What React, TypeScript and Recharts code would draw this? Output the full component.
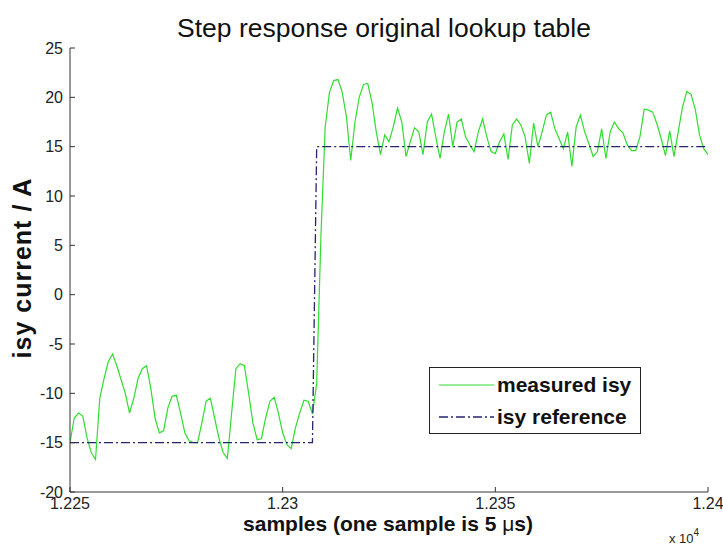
import React from "react";
import { LineChart, Line, XAxis, YAxis, Legend } from "recharts";

const START_SAMPLE = 12250;

// measured isy, one value per sample from 12250 to 12400
const measured = [
  -15, -12.5, -12, -12.3, -14.5, -16, -16.7, -10.5, -8.5, -6.8,
  -6, -7.2, -8.6, -10, -12, -10.5, -8.5, -7.5, -7.2, -9.5,
  -12.5, -14, -13.8, -11.5, -10.3, -10.2, -12, -14, -14.8, -15,
  -15, -13, -10.8, -10.5, -12.5, -14.5, -16, -16.6, -12, -7.5,
  -7, -7.2, -10, -13, -14.7, -14.6, -12.5, -10.8, -10.4, -12,
  -14, -15.2, -15.6, -13.5, -12, -10.7, -10.8, -12.1, -9, 6,
  17, 20.5, 21.7, 21.8, 20.5, 18, 13.6, 17.5, 20, 21.3,
  21.4, 19.5, 16.5, 14.2, 16.2, 15.5, 17, 18.9, 17.5, 14,
  15.5, 16.9, 16.5, 14.2, 17.5, 18.3, 16, 13.8, 16.5, 18.3,
  15, 17.5, 17.8, 16, 15.2, 14.5, 16.5, 17.8, 16, 14.5,
  14.3, 15.5, 16.3, 13.7, 17.2, 17.8, 17.2, 16, 13.3, 17.4,
  15, 16.5, 18.2, 18.5, 16.8, 15.8, 14.8, 16.5, 13, 17,
  18.2, 16.5, 15.3, 14, 14.5, 16.8, 13.8, 16.5, 17.5, 16.8,
  16.4, 15.2, 14.6, 14.6, 16, 18.8, 18.7, 18.5, 17.3, 15.8,
  14.1, 16.6, 14, 16.5, 19, 20.6, 20.3, 18.8, 16.2, 14.8,
  14.2,
];

// reference step
const refSamples = [12250, 12307, 12308, 12400];
const refValues = [-15, -15, 15, 15];

const xTicks = [12250, 12300, 12350, 12400];
const xTickLabels = ["1.225", "1.23", "1.235", "1.24"];
const yTicks = [-20, -15, -10, -5, 0, 5, 10, 15, 20, 25];

const measuredData = measured.map((v, i) => ({ sample: START_SAMPLE + i, isy: v }));
const refData = refSamples.map((s, i) => ({ sample: s, ref: refValues[i] }));

const FONT = '"Liberation Sans", Arial, Helvetica, sans-serif';
const GREEN = "#30dd30";
const NAVY = "#26266e";

function MatlabLegend() {
  const rows = [
    { label: "measured isy", color: GREEN, dash: undefined as string | undefined, w: 1.2 },
    { label: "isy reference", color: NAVY, dash: "9 3 2 3", w: 1.3 },
  ];
  return (
    <div
      style={{
        width: 212,
        height: 67,
        border: "1px solid #222",
        background: "#fff",
        fontFamily: FONT,
        fontWeight: "bold",
        fontSize: 21,
        color: "#111",
        boxSizing: "border-box",
        paddingTop: 1,
      }}
    >
      {rows.map((r) => (
        <div key={r.label} style={{ display: "flex", alignItems: "center", height: 32 }}>
          <svg width={66} height={10}>
            <line x1={9} y1={5} x2={64} y2={5} stroke={r.color} strokeWidth={r.w} strokeDasharray={r.dash} />
          </svg>
          <span style={{ marginLeft: 1 }}>{r.label}</span>
        </div>
      ))}
    </div>
  );
}

export default function App() {
  return (
    <div style={{ position: "absolute", left: 0, top: 0, width: 723, height: 547, background: "#fff", fontFamily: FONT }}>
      <div
        style={{
          position: "absolute",
          left: 384,
          top: 13,
          transform: "translateX(-50%)",
          whiteSpace: "nowrap",
          fontSize: 26.5,
          color: "#111",
        }}
      >
        Step response original lookup table
      </div>
      <div
        style={{
          position: "absolute",
          left: 22,
          top: 268,
          transform: "translate(-50%, -50%) rotate(-90deg)",
          whiteSpace: "nowrap",
          fontSize: 25,
          letterSpacing: 1,
          fontWeight: "bold",
          color: "#111",
        }}
      >
        isy current / A
      </div>
      <div
        style={{
          position: "absolute",
          left: 388,
          top: 524,
          transform: "translate(-50%, -50%)",
          whiteSpace: "nowrap",
          fontSize: 21,
          fontWeight: "bold",
          color: "#111",
        }}
      >
        samples (one sample is 5 <span style={{ fontWeight: "normal" }}>μ</span>s)
      </div>
      <div style={{ position: "absolute", left: 669, top: 529, fontSize: 13, color: "#222", whiteSpace: "nowrap" }}>
        x 10<sup style={{ fontSize: 10, position: "relative", top: -2 }}>4</sup>
      </div>
      <LineChart width={723} height={547} margin={{ top: 48, right: 15, bottom: 15, left: 10 }}>
        <XAxis
          dataKey="sample"
          type="number"
          domain={[12250, 12400]}
          ticks={xTicks}
          tickFormatter={(v: number) => xTickLabels[xTicks.indexOf(v)]}
          allowDataOverflow
          height={40}
          tickSize={-5}
          tickMargin={11}
          stroke="#333"
          tick={{ fill: "#222", fontSize: 16, fontFamily: FONT }}
        />
        <YAxis
          type="number"
          domain={[-20, 25]}
          ticks={yTicks}
          allowDataOverflow
          width={60}
          tickSize={-5}
          tickMargin={12}
          stroke="#333"
          tick={{ fill: "#222", fontSize: 16, fontFamily: FONT }}
        />
        <Legend
          layout="horizontal"
          verticalAlign="middle"
          align="center"
          wrapperStyle={{ left: 429, top: 367, width: 212 }}
          content={() => <MatlabLegend />}
        />
        <Line
          data={measuredData}
          dataKey="isy"
          type="linear"
          stroke={GREEN}
          strokeWidth={1.2}
          dot={false}
          isAnimationActive={false}
        />
        <Line
          data={refData}
          dataKey="ref"
          type="linear"
          stroke={NAVY}
          strokeWidth={1.3}
          strokeDasharray="9 3 2 3"
          dot={false}
          isAnimationActive={false}
        />
      </LineChart>
    </div>
  );
}
